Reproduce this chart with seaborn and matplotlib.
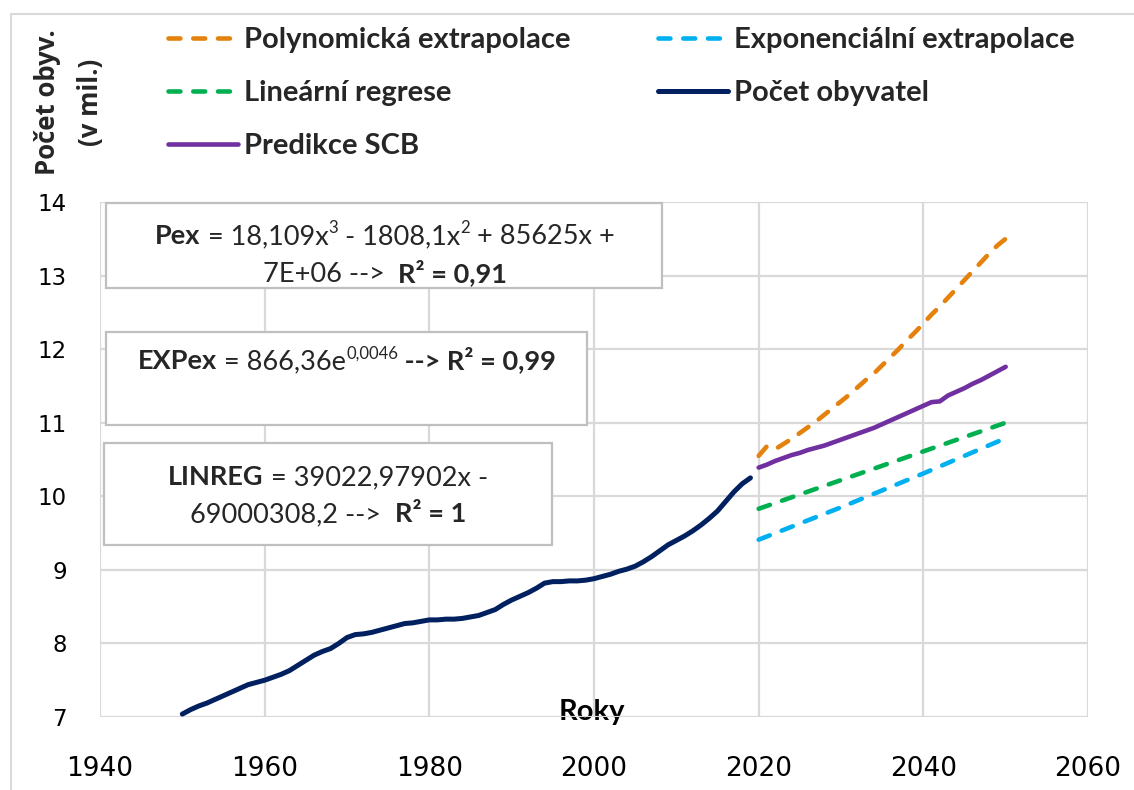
import matplotlib
matplotlib.use("Agg")
import matplotlib.pyplot as plt
import seaborn as sns
import pandas as pd
from matplotlib.patches import Rectangle
from matplotlib.lines import Line2D

# ---------------- data ----------------
years_hist = list(range(1950, 2020))
pop_hist = [7.04, 7.10, 7.15, 7.19, 7.24, 7.29, 7.34, 7.39, 7.44, 7.47,
            7.50, 7.54, 7.58, 7.63, 7.70, 7.77, 7.84, 7.89, 7.93, 8.00,
            8.08, 8.12, 8.13, 8.15, 8.18, 8.21, 8.24, 8.27, 8.28, 8.30,
            8.32, 8.32, 8.33, 8.33, 8.34, 8.36, 8.38, 8.42, 8.46, 8.53,
            8.59, 8.64, 8.69, 8.75, 8.82, 8.84, 8.84, 8.85, 8.85, 8.86,
            8.88, 8.91, 8.94, 8.98, 9.01, 9.05, 9.11, 9.18, 9.26, 9.34,
            9.40, 9.46, 9.53, 9.61, 9.70, 9.80, 9.93, 10.06, 10.17, 10.25]

years_fc = list(range(2020, 2051))
poly_fc = [10.55, 10.68, 10.64, 10.71, 10.78, 10.86, 10.94, 11.02, 11.11, 11.20,
           11.29, 11.38, 11.48, 11.58, 11.67, 11.78, 11.89, 12.00, 12.12, 12.23,
           12.35, 12.47, 12.58, 12.70, 12.82, 12.94, 13.06, 13.18, 13.30, 13.41,
           13.50]
scb_fc = [10.39, 10.43, 10.48, 10.52, 10.56, 10.59, 10.63, 10.66, 10.69, 10.73,
          10.77, 10.81, 10.85, 10.89, 10.93, 10.98, 11.03, 11.08, 11.13, 11.18,
          11.23, 11.28, 11.29, 11.37, 11.42, 11.47, 11.53, 11.58, 11.64, 11.70,
          11.76]
lin_years = [2020, 2050]
lin_fc = [9.83, 11.00]
exp_years = [2020, 2030, 2040, 2050]
exp_fc = [9.41, 9.85, 10.31, 10.79]

x_ticks = [1940, 1960, 1980, 2000, 2020, 2040, 2060]
y_ticks = [7, 8, 9, 10, 11, 12, 13, 14]

lbl_poly = "Polynomická extrapolace"
lbl_exp = "Exponenciální extrapolace"
lbl_lin = "Lineární regrese"
lbl_pop = "Počet obyvatel"
lbl_scb = "Predikce SCB"
x_title = "Roky"
y_title = "Počet obyv.\n(v mil.)"

# equation texts: (text, bold, superscript)
box1_l1 = [("Pex", True, False), (" = 18,109x", False, False), ("3", False, True),
           (" - 1808,1x", False, False), ("2", False, True),
           (" + 85625x +", False, False)]
box1_l2 = [("7E+06 -->  ", False, False), ("R² = 0,91", True, False)]
box2_l1 = [("EXPex", True, False), (" = 866,36e", False, False),
           ("0,0046", False, True), (" --> R² = 0,99", True, False)]
box3_l1 = [("LINREG", True, False), (" = 39022,97902x -", False, False)]
box3_l2 = [("69000308,2 -->  ", False, False), ("R² = 1", True, False)]

# ---------------- style ----------------
sns.set_theme(style="white")
plt.rcParams["font.family"] = ["Lato", "DejaVu Sans"]

C_POLY = "#E5820E"
C_EXP = "#00B0F0"
C_LIN = "#00B050"
C_POP = "#002060"
C_SCB = "#7030A0"
GRID = "#D9D9D9"

W, H = 1134, 790
fig = plt.figure(figsize=(W / 100, H / 100), dpi=100)
ax = fig.add_axes([100 / W, 1 - 717 / H, (1088 - 100) / W, (717 - 202) / H])


def px(x, y):
    return (x / W, 1 - y / H)


df_hist = pd.DataFrame({"year": years_hist, "val": pop_hist})
df_fc = pd.DataFrame({"year": years_fc, "poly": poly_fc, "scb": scb_fc})
df_lin = pd.DataFrame({"year": lin_years, "val": lin_fc})
df_exp = pd.DataFrame({"year": exp_years, "val": exp_fc})

LW = 3.3
dash = (0, (2.6, 2.8))
sns.lineplot(data=df_fc, x="year", y="poly", ax=ax, color=C_POLY, lw=LW,
             linestyle=dash, dash_capstyle="round", label=lbl_poly)
sns.lineplot(data=df_exp, x="year", y="val", ax=ax, color=C_EXP, lw=LW,
             linestyle=dash, dash_capstyle="round", label=lbl_exp)
sns.lineplot(data=df_lin, x="year", y="val", ax=ax, color=C_LIN, lw=LW,
             linestyle=dash, dash_capstyle="round", label=lbl_lin)
sns.lineplot(data=df_hist, x="year", y="val", ax=ax, color=C_POP, lw=LW + 0.3,
             solid_capstyle="round", label=lbl_pop)
sns.lineplot(data=df_fc, x="year", y="scb", ax=ax, color=C_SCB, lw=LW,
             solid_capstyle="round", label=lbl_scb)

ax.set_xlim(1940, 2060)
ax.set_ylim(7, 14)
ax.set_xticks(x_ticks)
ax.set_yticks(y_ticks)
ax.set_xticklabels([str(v) for v in x_ticks], family="DejaVu Sans", fontsize=19)
ax.set_yticklabels([str(v) for v in y_ticks], family="DejaVu Sans", fontsize=16.5)
ax.tick_params(axis="x", length=0, pad=28, colors="black")
ax.tick_params(axis="y", length=0, pad=24, colors="black")
ax.grid(True, color=GRID, lw=1.6)
ax.set_axisbelow(True)
for s in ax.spines.values():
    s.set_visible(False)

ax.set_xlabel(x_title, fontsize=21, fontweight="bold", color="black")
ax.xaxis.set_label_coords(0.498, 0.035)
ax.set_ylabel("")

# legend
h, l = ax.get_legend_handles_labels()
hd = dict(zip(l, h))
order = [lbl_poly, lbl_lin, lbl_scb, lbl_exp, lbl_pop]
ax.get_legend().remove()
fig.legend([hd[k] for k in order], order, loc="upper left",
           bbox_to_anchor=px(168, 27), ncol=2, frameon=False,
           prop={"family": "Lato", "weight": "bold", "size": 21},
           handlelength=2.4, handletextpad=0.2, columnspacing=3.0,
           labelspacing=0.93, borderaxespad=0, borderpad=0)

# y title
fig.text(69 / W, 1 - 102 / H, y_title, rotation=90, ha="center", va="center",
         family="Open Sans", fontweight="bold", fontsize=18.5,
         multialignment="center", linespacing=1.8)

# chart border
fig.add_artist(Line2D([11 / W, 11 / W], [0, 1 - 14 / H], transform=fig.transFigure,
                      color=GRID, lw=1.5))
fig.add_artist(Line2D([11 / W, 1], [1 - 14 / H, 1 - 14 / H], transform=fig.transFigure,
                      color=GRID, lw=1.5))

# equation boxes
BOX_EC = "#BFBFBF"


def box(x0, y0, x1, y1):
    r = Rectangle(px(x0, y1), (x1 - x0) / W, (y1 - y0) / H, transform=fig.transFigure,
                  facecolor="white", edgecolor=BOX_EC, lw=1.6, zorder=5)
    fig.add_artist(r)


renderer = fig.canvas.get_renderer()


def measure(text, bold, size):
    kw = dict(fontsize=size, fontweight="bold" if bold else "normal", family="Lato")
    t1 = fig.text(0, 0, "|" + text + "|", **kw)
    t2 = fig.text(0, 0, "||", **kw)
    w = t1.get_window_extent(renderer).width - t2.get_window_extent(renderer).width
    t1.remove()
    t2.remove()
    return w


def rich(xc, ybase, segs, fs):
    sizes = [fs * 0.62 if sup else fs for _, _, sup in segs]
    widths = [measure(t, b, s) for (t, b, _), s in zip(segs, sizes)]
    x = xc - sum(widths) / 2
    for (t, b, sup), s, w in zip(segs, sizes, widths):
        y = ybase - (fs * 1.389 * 0.40 if sup else 0)
        fig.text(x / W, 1 - y / H, t, fontsize=s, family="Lato",
                 fontweight="bold" if b else "normal", ha="left", va="baseline",
                 zorder=6)
        x += w


FS = 19.5
box(106, 203, 662, 288)
rich(385, 244, box1_l1, FS)
rich(385, 282, box1_l2, FS)
box(106, 332, 587, 425)
rich(347, 369, box2_l1, FS)
box(104, 443, 552, 545)
rich(328, 485, box3_l1, FS)
rich(328, 522, box3_l2, FS)

fig.savefig("out.png", dpi=100)
